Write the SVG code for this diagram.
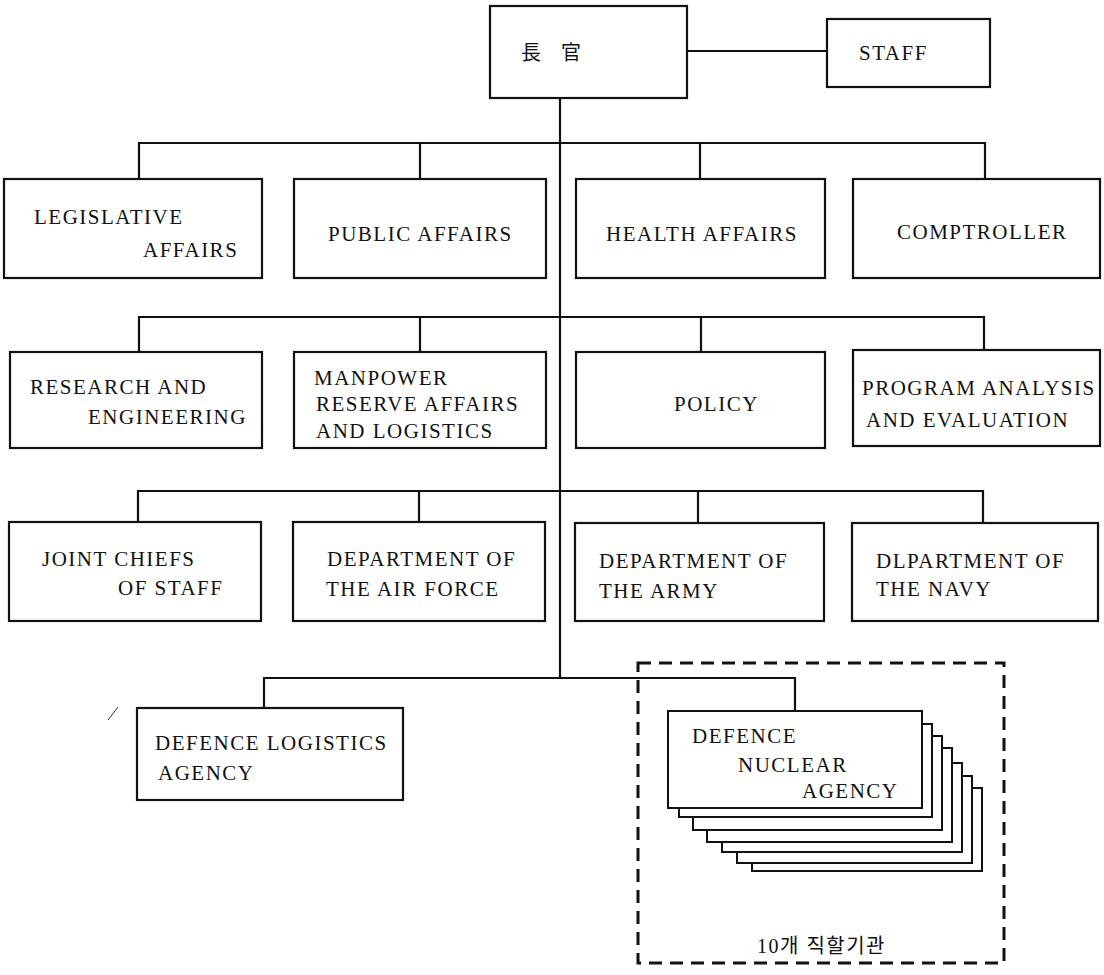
<svg xmlns="http://www.w3.org/2000/svg" width="1104" height="975" viewBox="0 0 1104 975">
<style>
.box{fill:#fff;stroke:#111;stroke-width:2.2}
.card{fill:#fff;stroke:#111;stroke-width:2}
.ln{fill:none;stroke:#111;stroke-width:2.2}
.t{font-family:"Liberation Serif","Times New Roman",serif;font-size:21px;letter-spacing:1.5px;fill:#111}
.k{font-family:"Liberation Serif","Noto Sans CJK KR",serif;font-size:20px;fill:#111}
.dash{fill:none;stroke:#111;stroke-width:3;stroke-dasharray:13 8}
</style>
<rect width="1104" height="975" fill="#fff"/>
<g id="connectors">
<line class="ln" x1="560" y1="98" x2="560" y2="678"/>
<line class="ln" x1="687" y1="51" x2="827" y2="51"/>
<polyline class="ln" points="139,179 139,143 985,143 985,179"/>
<line class="ln" x1="420" y1="143" x2="420" y2="179"/>
<line class="ln" x1="700" y1="143" x2="700" y2="179"/>
<polyline class="ln" points="139,352 139,317 984,317 984,352"/>
<line class="ln" x1="420" y1="317" x2="420" y2="352"/>
<line class="ln" x1="701" y1="317" x2="701" y2="352"/>
<polyline class="ln" points="138,522 138,491 983,491 983,522"/>
<line class="ln" x1="419" y1="491" x2="419" y2="522"/>
<line class="ln" x1="698" y1="491" x2="698" y2="522"/>
<polyline class="ln" points="264,708 264,678 795,678 795,711"/>
</g>
<g id="chief">
<rect class="box" x="490" y="6" width="197" height="92"/>
<text class="k" x="521" y="60">長</text>
<text class="k" x="561" y="60">官</text>
</g>
<g id="staff">
<rect class="box" x="827" y="19" width="163" height="68"/>
<text class="t" x="859" y="60">STAFF</text>
</g>
<g id="legislative">
<rect class="box" x="4" y="179" width="258" height="99"/>
<text class="t" x="34" y="224" letter-spacing="2">LEGISLATIVE</text>
<text class="t" x="143" y="257">AFFAIRS</text>
</g>
<g id="public">
<rect class="box" x="294" y="179" width="252" height="99"/>
<text class="t" x="328" y="241">PUBLIC AFFAIRS</text>
</g>
<g id="health">
<rect class="box" x="576" y="179" width="249" height="99"/>
<text class="t" x="606" y="241">HEALTH AFFAIRS</text>
</g>
<g id="comptroller">
<rect class="box" x="853" y="179" width="247" height="99"/>
<text class="t" x="897" y="239">COMPTROLLER</text>
</g>
<g id="research">
<rect class="box" x="10" y="352" width="252" height="96"/>
<text class="t" x="30" y="394">RESEARCH AND</text>
<text class="t" x="88" y="424">ENGINEERING</text>
</g>
<g id="manpower">
<rect class="box" x="294" y="352" width="252" height="96"/>
<text class="t" x="314" y="385">MANPOWER</text>
<text class="t" x="316" y="411">RESERVE  AFFAIRS</text>
<text class="t" x="316" y="438">AND  LOGISTICS</text>
</g>
<g id="policy">
<rect class="box" x="576" y="352" width="249" height="96"/>
<text class="t" x="674" y="411">POLICY</text>
</g>
<g id="program">
<rect class="box" x="853" y="350" width="247" height="96"/>
<text class="t" x="862" y="395" letter-spacing="0.6">PROGRAM ANALYSIS</text>
<text class="t" x="866" y="427">AND EVALUATION</text>
</g>
<g id="jcs">
<rect class="box" x="9" y="522" width="252" height="99"/>
<text class="t" x="42" y="566">JOINT CHIEFS</text>
<text class="t" x="118" y="595">OF STAFF</text>
</g>
<g id="airforce">
<rect class="box" x="293" y="522" width="252" height="99"/>
<text class="t" x="327" y="566">DEPARTMENT OF</text>
<text class="t" x="326" y="596">THE AIR FORCE</text>
</g>
<g id="army">
<rect class="box" x="575" y="523" width="249" height="98"/>
<text class="t" x="599" y="568">DEPARTMENT OF</text>
<text class="t" x="599" y="598">THE ARMY</text>
</g>
<g id="navy">
<rect class="box" x="852" y="523" width="246" height="98"/>
<text class="t" x="876" y="568">DLPARTMENT OF</text>
<text class="t" x="876" y="596">THE NAVY</text>
</g>
<g id="dla">
<rect class="box" x="137" y="708" width="266" height="92"/>
<text class="t" x="155" y="750" letter-spacing="1">DEFENCE  LOGISTICS</text>
<text class="t" x="158" y="780">AGENCY</text>
<line x1="108" y1="720" x2="118" y2="707" stroke="#333" stroke-width="1"/>
</g>
<g id="agencies">
<rect class="dash" x="638" y="663" width="366" height="300"/>
<rect class="card" x="752" y="788" width="230" height="83"/>
<rect class="card" x="737" y="776" width="235" height="87"/>
<rect class="card" x="722" y="763" width="240" height="89"/>
<rect class="card" x="707" y="748" width="245" height="94"/>
<rect class="card" x="693" y="736" width="249" height="94"/>
<rect class="card" x="679" y="724" width="253" height="93"/>
<rect class="card" x="668" y="711" width="254" height="97"/>
<text class="t" x="692" y="743">DEFENCE</text>
<text class="t" x="738" y="772">NUCLEAR</text>
<text class="t" x="802" y="798">AGENCY</text>
<text class="k" x="757" y="953" font-size="18" letter-spacing="1.5">10개  직할기관</text>
</g>
</svg>
